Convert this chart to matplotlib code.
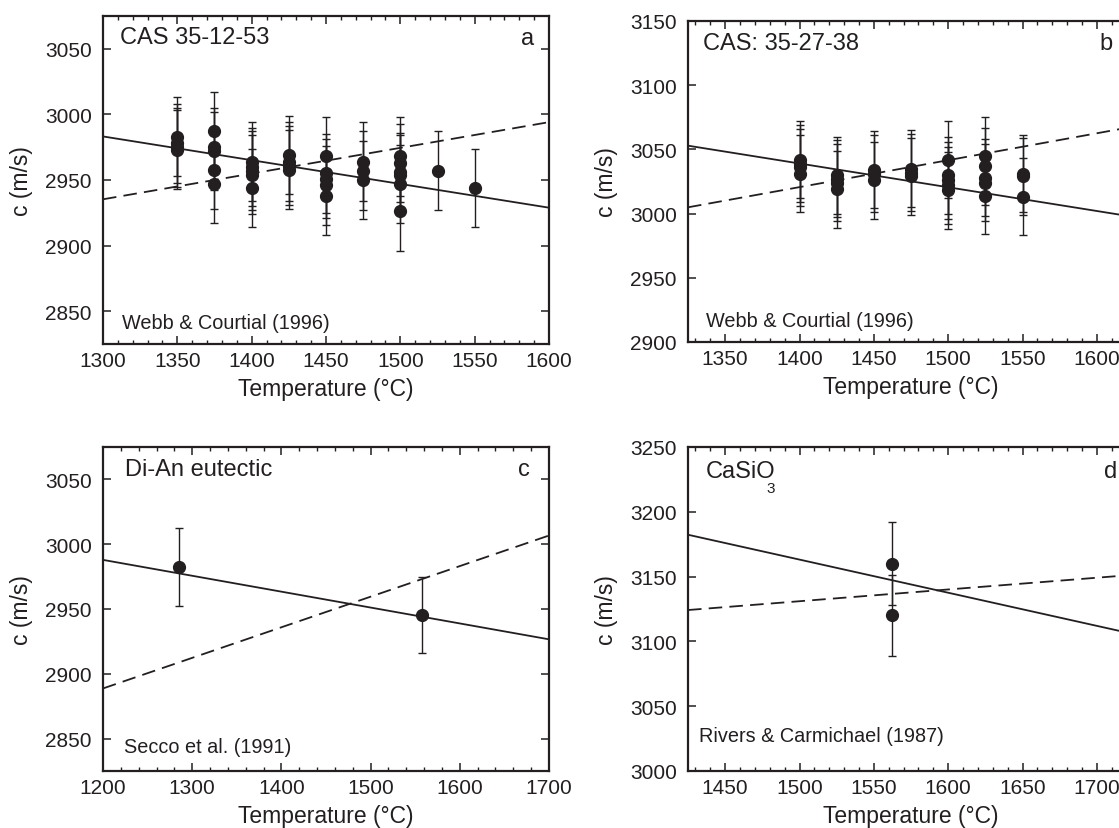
import numpy as np
import matplotlib
matplotlib.use('Agg')
import matplotlib.pyplot as plt
from matplotlib.ticker import MultipleLocator

plt.rcParams['font.family'] = ['Liberation Sans', 'DejaVu Sans']
plt.rcParams['mathtext.fontset'] = 'custom'
plt.rcParams['mathtext.rm'] = 'Liberation Sans'
plt.rcParams['mathtext.it'] = 'Liberation Sans:italic'

ink = '#231f20'

# ---- panel a: CAS 35-12-53 (Webb & Courtial 1996) ----
temp_a = [1350, 1350, 1350, 1350,
          1375, 1375, 1375, 1375, 1375,
          1400, 1400, 1400, 1400, 1400,
          1425, 1425, 1425, 1425,
          1450, 1450, 1450, 1450, 1450,
          1475, 1475, 1475,
          1500, 1500, 1500, 1500, 1500, 1500,
          1525, 1550]
c_a = [2983, 2978, 2975, 2973,
       2987, 2975, 2972, 2958, 2947,
       2964, 2960, 2957, 2954, 2944,
       2969, 2964, 2961, 2958,
       2968, 2955, 2951, 2946, 2938,
       2964, 2957, 2950,
       2968, 2963, 2956, 2954, 2947, 2926,
       2957, 2944]
err_a = 30
fit_temp_a = [1300, 1600]
solid_a = [2983.2, 2928.9]
dashed_a = [2935.3, 2994.1]

# ---- panel b: CAS 35-27-38 (Webb & Courtial 1996) ----
temp_b = [1400, 1400, 1400, 1400,
          1425, 1425, 1425, 1425,
          1450, 1450, 1450,
          1475, 1475, 1475,
          1500, 1500, 1500, 1500, 1500,
          1525, 1525, 1525, 1525, 1525,
          1550, 1550, 1550]
c_b = [3042, 3039, 3036, 3031,
       3030, 3027, 3024, 3019,
       3034, 3031, 3026,
       3035, 3032, 3029,
       3042, 3030, 3026, 3022, 3018,
       3045, 3037, 3028, 3024, 3014,
       3031, 3029, 3013]
err_b = 30
fit_temp_b = [1325, 1625]
solid_b = [3052.9, 2997.4]
dashed_b = [3004.9, 3067.8]

# ---- panel c: Di-An eutectic (Secco et al. 1991) ----
temp_c = [1285, 1558]
c_c = [2982.5, 2945.5]
err_c = [30, 29.5]
fit_temp_c = [1200, 1700]
solid_c = [2987.9, 2926.6]
dashed_c = [2888.7, 3006.7]

# ---- panel d: CaSiO3 (Rivers & Carmichael 1987) ----
temp_d = [1562, 1562]
c_d = [3160, 3120]
err_d = [32, 31]
fit_temp_d = [1425, 1725]
solid_d = [3182.3, 3105.6]
dashed_d = [3124.2, 3151.4]


W, H = 1119, 829
fig = plt.figure(figsize=(W / 100, H / 100), dpi=100)


def px_axes(left, top, right, bottom):
    # axes box given in pixel coords of the picture (y from top)
    return fig.add_axes([left / W, 1 - bottom / H, (right - left) / W, (bottom - top) / H])


def draw_panel(ax, temp, c, err, fit_temp, solid, dashed, xlim, ylim,
               xmajor, xminor, yticks, title, title_pos, letter, letter_pos,
               source, source_pos):
    ax.errorbar(temp, c, yerr=err, fmt='o', color=ink, ms=8.5, mec=ink,
                elinewidth=1.0, capsize=3, capthick=1.0, zorder=3)
    ax.plot(fit_temp, solid, '-', color=ink, lw=1.3, zorder=2)
    ax.plot(fit_temp, dashed, '--', color=ink, lw=1.3, dashes=(7.5, 4), zorder=2)

    ax.set_xlim(xlim)
    ax.set_ylim(ylim)
    ax.xaxis.set_major_locator(MultipleLocator(xmajor))
    ax.xaxis.set_minor_locator(MultipleLocator(xminor))
    ax.set_yticks(yticks)

    ax.tick_params(which='both', direction='in', top=True, right=True,
                   color=ink, labelcolor=ink, labelsize=15)
    ax.tick_params(which='major', length=6, width=1.1)
    ax.tick_params(which='minor', length=3, width=1.0)
    ax.tick_params(axis='x', pad=5)
    ax.tick_params(axis='y', pad=8)
    for sp in ax.spines.values():
        sp.set_color(ink)
        sp.set_linewidth(1.6)

    ax.set_xlabel('Temperature (°C)', fontsize=16.5, color=ink, labelpad=5)
    ax.set_ylabel('c (m/s)', fontsize=16.5, color=ink)
    ax.yaxis.set_label_coords(-0.157, 0.5)

    ax.text(title_pos[0], title_pos[1], title, transform=ax.transAxes,
            fontsize=17, color=ink, ha='left', va='baseline')
    ax.text(letter_pos[0], letter_pos[1], letter, transform=ax.transAxes,
            fontsize=17, color=ink, ha='right', va='baseline')
    ax.text(source_pos[0], source_pos[1], source, transform=ax.transAxes,
            fontsize=14.3, color=ink, ha='left', va='baseline')


ax_a = px_axes(103, 17, 549, 345)
draw_panel(ax_a, temp_a, c_a, err_a, fit_temp_a, solid_a, dashed_a,
           (1300, 1600), (2825, 3075), 50, 10, [2850, 2900, 2950, 3000, 3050],
           'CAS 35-12-53', (0.038, 0.918), 'a', (0.966, 0.915),
           'Webb & Courtial (1996)', (0.042, 0.05))

ax_b = px_axes(688, 22, 1134, 343)
draw_panel(ax_b, temp_b, c_b, err_b, fit_temp_b, solid_b, dashed_b,
           (1325, 1625), (2900, 3150), 50, 10, [2900, 2950, 3000, 3050, 3100, 3150],
           'CAS: 35-27-38', (0.033, 0.913), 'b', (0.953, 0.913),
           'Webb & Courtial (1996)', (0.040, 0.051))

ax_c = px_axes(103, 448, 549, 772)
draw_panel(ax_c, temp_c, c_c, err_c, fit_temp_c, solid_c, dashed_c,
           (1200, 1700), (2825, 3075), 100, 20, [2850, 2900, 2950, 3000, 3050],
           'Di-An eutectic', (0.049, 0.914), 'c', (0.957, 0.914),
           'Secco et al. (1991)', (0.046, 0.058))

ax_d = px_axes(688, 448, 1134, 772)
draw_panel(ax_d, temp_d, c_d, err_d, fit_temp_d, solid_d, dashed_d,
           (1425, 1725), (3000, 3250), 50, 10, [3000, 3050, 3100, 3150, 3200, 3250],
           'CaSiO', (0.040, 0.906), 'd', (0.962, 0.906),
           'Rivers & Carmichael (1987)', (0.025, 0.094))
# subscript of CaSiO3 sits well below the baseline in the original
ax_d.text(0.176, 0.862, '3', transform=ax_d.transAxes, fontsize=11,
          color=ink, ha='left', va='baseline')

fig.savefig('out.png', dpi=100)
